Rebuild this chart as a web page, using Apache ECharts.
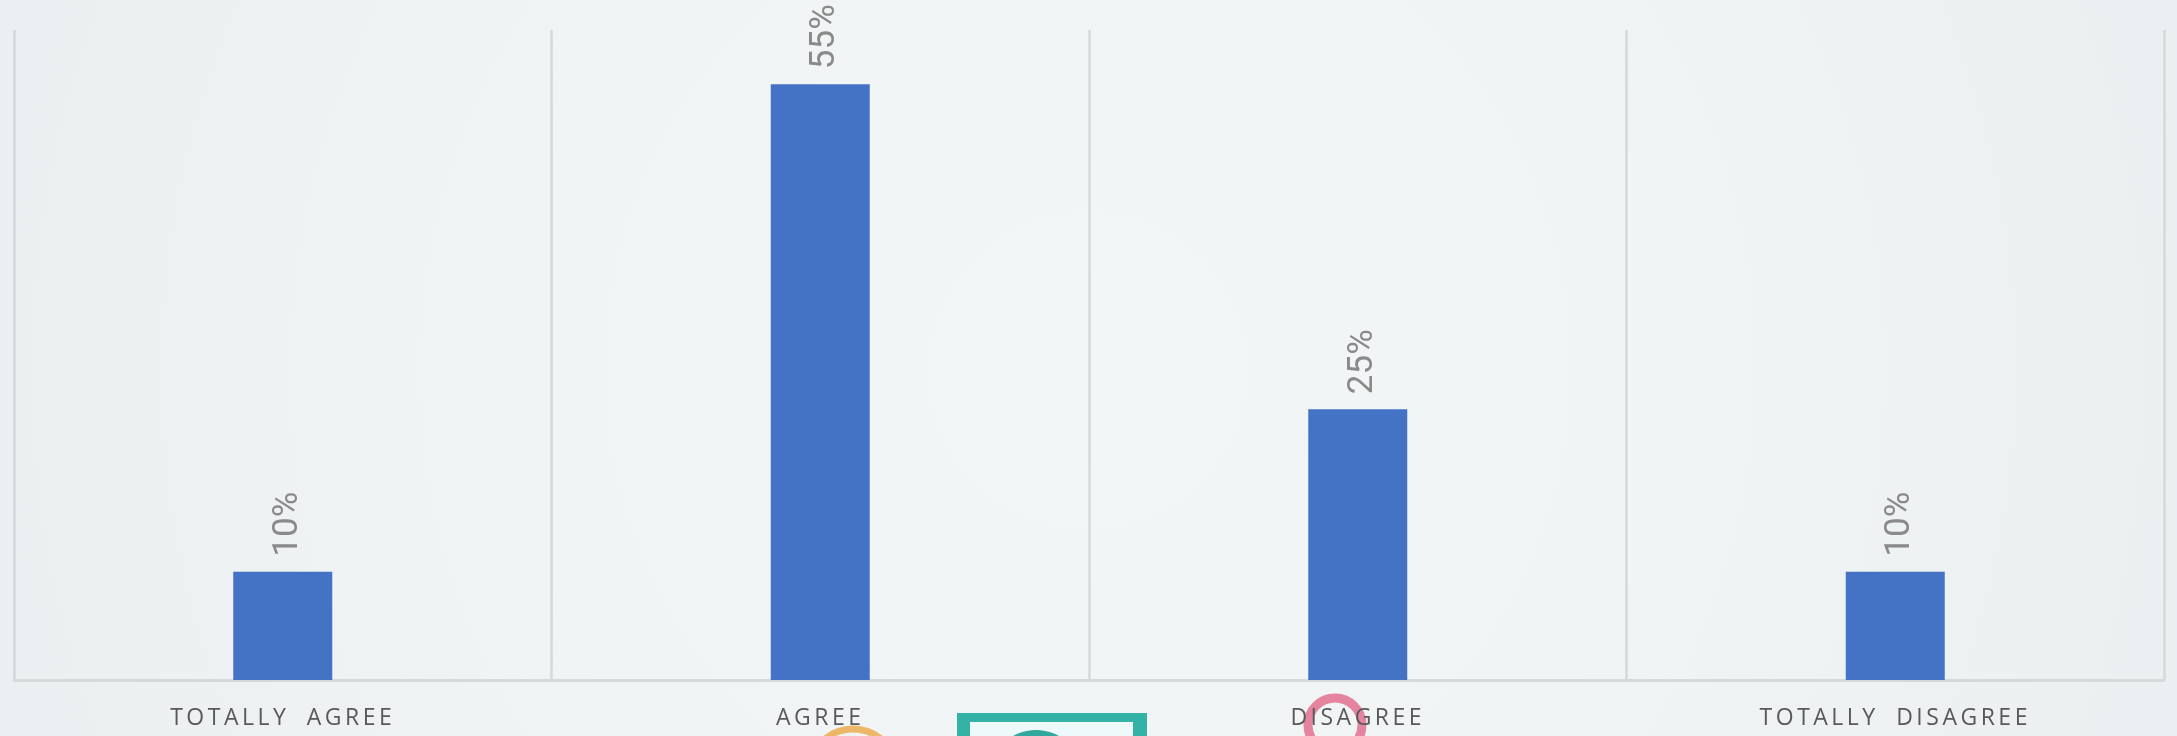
<!DOCTYPE html>
<html>
<head>
<meta charset="utf-8">
<style>html,body{margin:0;padding:0;background:#eff3f5}#c{width:2177px;height:736px}</style>
<script src="https://cdn.jsdelivr.net/npm/echarts@6/dist/echarts.min.js"></script>
</head>
<body>
<div id="c"></div>
<script>
const categories = ['TOTALLY AGREE', 'AGREE', 'DISAGREE', 'TOTALLY DISAGREE'];
const values = [10, 55, 25, 10];
const axisMax = 60;

// Tracked-out capitals on the category labels only, as in the reference
const origFillText = CanvasRenderingContext2D.prototype.fillText;
CanvasRenderingContext2D.prototype.fillText = function (t, x, y, m) {
  const tracked = categories.includes(t);
  this.letterSpacing = tracked ? '3.5px' : '0px';
  this.wordSpacing = tracked ? '8px' : '0px';
  origFillText.call(this, t, x, y, m);
  this.letterSpacing = '0px';
  this.wordSpacing = '0px';
};

const chart = echarts.init(document.getElementById('c'), null, { renderer: 'canvas' });
chart.setOption({
  animation: false,
  backgroundColor: {
    type: 'radial', global: true, x: 1088, y: 368, r: 1150,
    colorStops: [
      { offset: 0, color: '#f3f6f7' },
      { offset: 0.5, color: '#f0f4f5' },
      { offset: 1, color: '#ebeff1' }
    ]
  },
  grid: { left: 14, right: 13, top: 30, bottom: 56, containLabel: false },
  xAxis: {
    type: 'category',
    data: categories,
    axisLine: { show: true, lineStyle: { color: '#d6d9da', width: 3 } },
    axisTick: { show: false },
    splitLine: { show: true, interval: 0, lineStyle: { color: '#d6d9da', width: 2.5 } },
    axisLabel: {
      interval: 0,
      margin: 27,
      fontFamily: '"Open Sans"',
      fontSize: 23,
      color: '#595959'
    }
  },
  yAxis: { type: 'value', min: 0, max: axisMax, show: false },
  series: [{
    type: 'bar',
    data: values,
    barWidth: 99,
    itemStyle: { color: '#4472c4' },
    label: {
      show: true,
      position: 'top',
      distance: 15,
      rotate: 90,
      align: 'left',
      verticalAlign: 'middle',
      offset: [0, 5],
      fontFamily: 'Roboto',
      fontSize: 35,
      color: '#8a8a8a',
      formatter: p => p.value + '%'
    }
  }],
  graphic: [
    { type: 'circle', z: 0, shape: { cx: 1335, cy: 725, r: 27 }, style: { fill: 'none', stroke: '#e5849e', lineWidth: 9 } },
    { type: 'circle', z: 0, shape: { cx: 853, cy: 773, r: 44 }, style: { fill: 'none', stroke: '#ebb867', lineWidth: 7 } },
    { type: 'rect', z: 0, shape: { x: 957, y: 713, width: 190, height: 60 }, style: { fill: '#33b2a5' } },
    { type: 'rect', z: 0, shape: { x: 970, y: 722, width: 163, height: 60 }, style: { fill: '#eefafa' } },
    { type: 'circle', z: 1, shape: { cx: 1036, cy: 777, r: 47 }, style: { fill: '#33a89c' } }
  ]
});
</script>
</body>
</html>
